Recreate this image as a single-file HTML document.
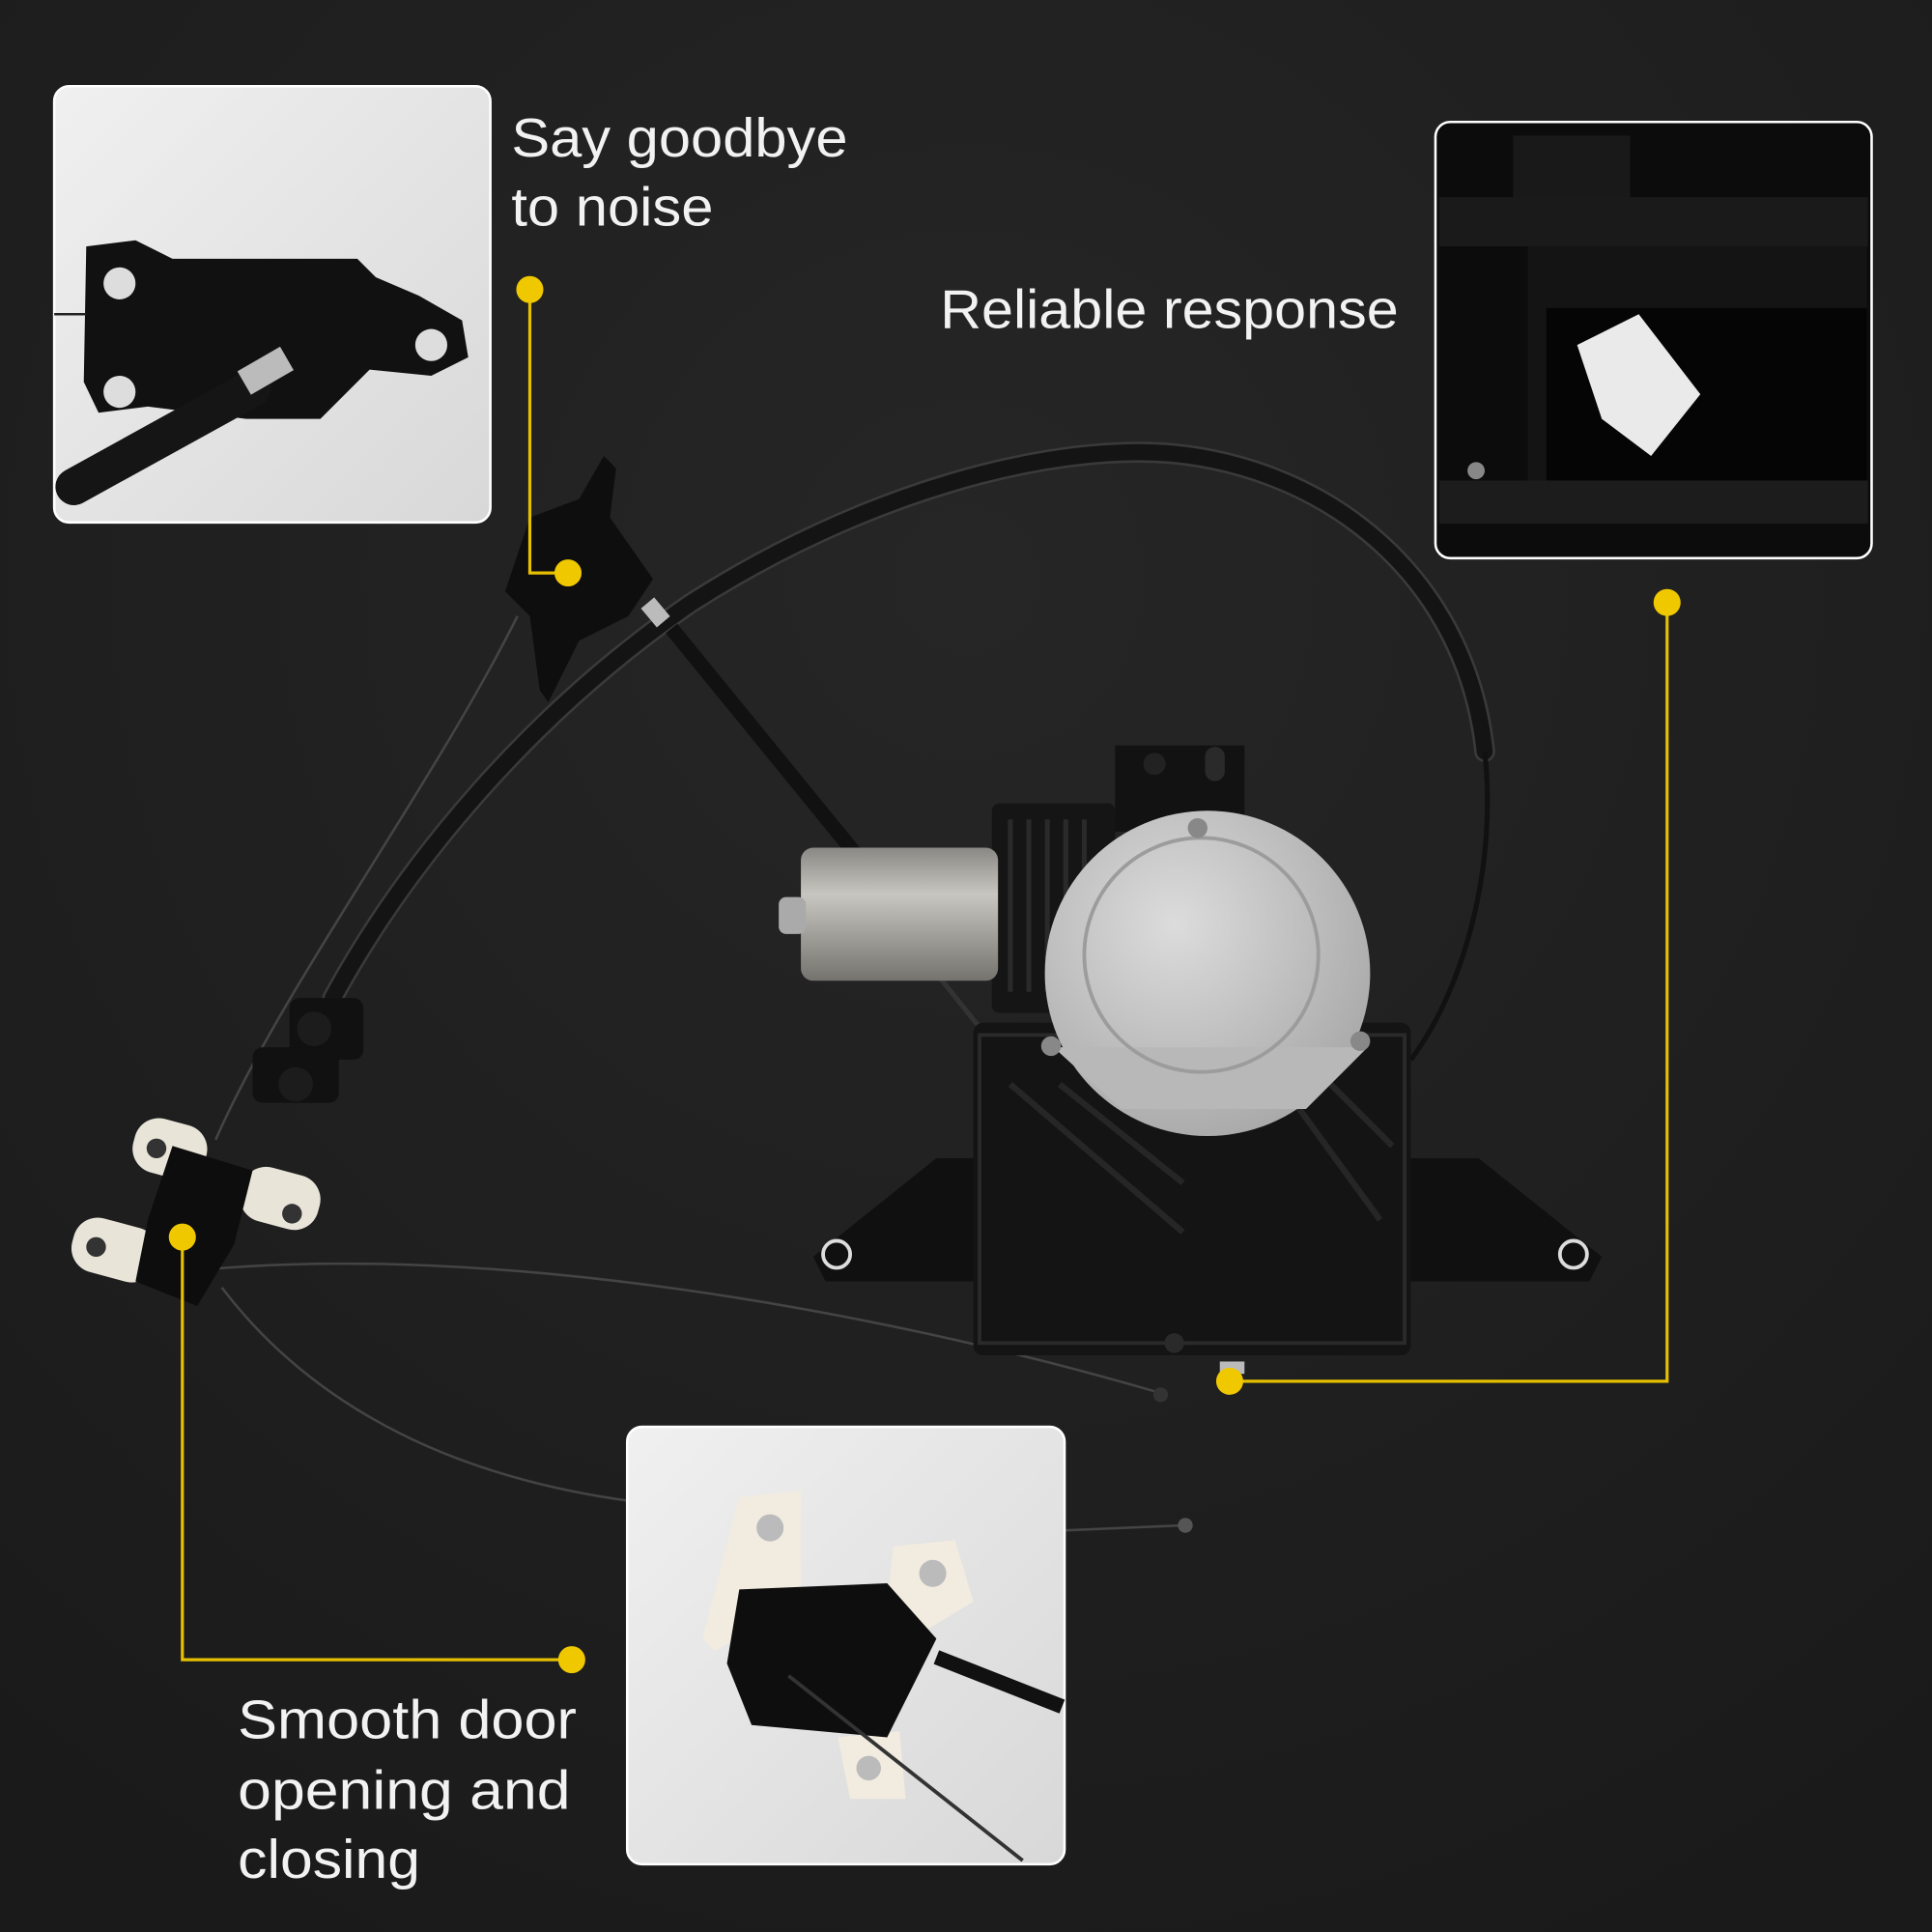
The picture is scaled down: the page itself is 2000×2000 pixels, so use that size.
<!DOCTYPE html>
<html><head><meta charset="utf-8"><style>
html,body{margin:0;padding:0;background:#1e1e1e;}
svg{display:block}
text{font-family:"Liberation Sans",sans-serif;fill:#f2f2f2;font-size:44px;}
</style></head><body>
<svg width="2000" height="2000" viewBox="0 0 1568 1568" xmlns="http://www.w3.org/2000/svg">
<defs>
<radialGradient id="bg" cx="0.5" cy="0.3" r="0.8"><stop offset="0" stop-color="#262626"/><stop offset="1" stop-color="#1a1a1a"/></radialGradient>
<linearGradient id="lite" x1="0" y1="0" x2="1" y2="1"><stop offset="0" stop-color="#f0f0f0"/><stop offset="1" stop-color="#d8d8d8"/></linearGradient>
<linearGradient id="cyl" x1="0" y1="0" x2="0" y2="1"><stop offset="0" stop-color="#8a8884"/><stop offset="0.35" stop-color="#c8c6c0"/><stop offset="1" stop-color="#75736e"/></linearGradient>
<radialGradient id="disc" cx="0.4" cy="0.35" r="0.7"><stop offset="0" stop-color="#dcdcdc"/><stop offset="1" stop-color="#a8a8a8"/></radialGradient>
</defs>
<rect width="1568" height="1568" fill="url(#bg)"/>

<!-- cables -->
<path d="M270 810 C 330 700, 430 580, 560 490 C 700 400, 850 360, 950 368 C 1080 380, 1190 470, 1205 610" fill="none" stroke="#3a3a3a" stroke-width="17" stroke-linecap="round"/>
<path d="M270 810 C 330 700, 430 580, 560 490 C 700 400, 850 360, 950 368 C 1080 380, 1190 470, 1205 610" fill="none" stroke="#141414" stroke-width="13" stroke-linecap="round"/>
<path d="M1205 610 C 1215 700, 1190 800, 1145 860" fill="none" stroke="#111" stroke-width="4"/>
<path d="M545 510 L 700 700" fill="none" stroke="#111" stroke-width="12"/>
<rect x="522" y="490" width="20" height="14" fill="#bbb" transform="rotate(50 532 497)"/>
<path d="M420 500 C 350 640, 230 800, 175 925" fill="none" stroke="#444" stroke-width="2"/>
<path d="M170 1030 C 400 1010, 700 1060, 940 1130" fill="none" stroke="#444" stroke-width="2"/>
<path d="M180 1045 C 260 1150, 380 1200, 510 1218" fill="none" stroke="#444" stroke-width="2"/>
<path d="M865 1242 L 960 1238" fill="none" stroke="#444" stroke-width="2"/>
<circle cx="962" cy="1238" r="6" fill="#555"/>
<circle cx="942" cy="1132" r="6" fill="#333"/>
<path d="M760 790 L 800 840" stroke="#333" stroke-width="4"/>

<!-- top latch -->
<path d="M430 420 L 470 405 L 490 370 L 500 380 L 495 420 L 530 470 L 510 500 L 470 520 L 445 570 L 438 560 L 430 500 L 410 480 Z" fill="#0e0e0e"/>
<!-- clips -->
<rect x="235" y="810" width="60" height="50" rx="8" fill="#111"/>
<rect x="205" y="850" width="70" height="45" rx="8" fill="#111"/>
<circle cx="255" cy="835" r="14" fill="#1c1c1c"/><circle cx="240" cy="880" r="14" fill="#1c1c1c"/>

<!-- bottom-left latch -->
<g>
<rect x="108" y="910" width="60" height="45" rx="20" fill="#e8e4d8" transform="rotate(15 138 932)"/>
<rect x="195" y="950" width="65" height="45" rx="20" fill="#e8e4d8" transform="rotate(15 227 972)"/>
<rect x="58" y="992" width="70" height="45" rx="20" fill="#e8e4d8" transform="rotate(15 93 1015)"/>
<circle cx="127" cy="932" r="8" fill="#333"/><circle cx="237" cy="985" r="8" fill="#333"/><circle cx="78" cy="1012" r="8" fill="#333"/>
<path d="M140 930 L 205 950 L 190 1010 L 160 1060 L 110 1040 L 120 990 Z" fill="#0d0d0d"/>
</g>

<!-- motor unit -->
<path d="M660 1020 L 760 940 L 1200 940 L 1300 1020 L 1290 1040 L 670 1040 Z" fill="#101010"/>
<circle cx="679" cy="1018" r="11" fill="none" stroke="#ddd" stroke-width="3"/>
<circle cx="1277" cy="1018" r="11" fill="none" stroke="#ddd" stroke-width="3"/>
<rect x="790" y="830" width="355" height="270" rx="8" fill="#141414"/>
<rect x="795" y="840" width="345" height="250" fill="none" stroke="#2a2a2a" stroke-width="3"/>
<path d="M820 880 L 960 1000 M 860 880 L 960 960 M 1040 880 L 1120 990 M 1080 880 L 1130 930" stroke="#262626" stroke-width="5"/>
<rect x="905" y="605" width="105" height="70" fill="#121212"/>
<circle cx="937" cy="620" r="9" fill="#222"/><rect x="978" y="606" width="16" height="28" rx="8" fill="#2a2a2a"/>
<rect x="805" y="652" width="100" height="170" rx="6" fill="#151515"/>
<path d="M820 665 v140 M835 665 v140 M850 665 v140 M865 665 v140 M880 665 v140" stroke="#2a2a2a" stroke-width="4"/>
<rect x="650" y="688" width="160" height="108" rx="10" fill="url(#cyl)"/>
<rect x="632" y="728" width="22" height="30" rx="6" fill="#aaa"/>
<circle cx="980" cy="790" r="132" fill="url(#disc)"/>
<path d="M855 850 L 1110 850 L 1060 900 L 910 900 Z" fill="#b8b8b8"/>
<circle cx="975" cy="775" r="95" fill="none" stroke="#9c9c9c" stroke-width="3"/>
<circle cx="972" cy="672" r="8" fill="#888"/><circle cx="853" cy="849" r="8" fill="#888"/><circle cx="1104" cy="845" r="8" fill="#888"/>
<circle cx="953" cy="1090" r="8" fill="#2a2a2a"/>
<rect x="990" y="1105" width="20" height="10" fill="#bbb"/>

<!-- inset top-left -->
<rect x="44" y="70" width="354" height="354" rx="12" fill="url(#lite)" stroke="#fff" stroke-width="2"/>
<path d="M70 200 L 110 195 L 140 210 L 290 210 L 305 225 L 340 240 L 375 260 L 380 290 L 350 305 L 300 300 L 260 340 L 200 340 L 120 330 L 80 335 L 68 310 Z" fill="#111"/>
<circle cx="97" cy="230" r="13" fill="#ddd"/><circle cx="97" cy="318" r="13" fill="#ddd"/><circle cx="350" cy="280" r="13" fill="#ddd"/>
<path d="M60 395 L 205 315" stroke="#151515" stroke-width="30" stroke-linecap="round"/>
<rect x="195" y="290" width="40" height="22" fill="#bbb" transform="rotate(-30 215 300)"/>
<path d="M44 255 L 70 255" stroke="#222" stroke-width="2"/>

<!-- inset top-right -->
<rect x="1165" y="99" width="354" height="354" rx="12" fill="#0c0c0c" stroke="#fff" stroke-width="2"/>
<rect x="1228" y="110" width="95" height="60" fill="#191919"/>
<rect x="1168" y="160" width="348" height="40" fill="#1a1a1a"/>
<rect x="1240" y="200" width="275" height="220" fill="#141414"/>
<rect x="1255" y="250" width="260" height="140" fill="#050505"/>
<rect x="1168" y="390" width="348" height="35" fill="#1c1c1c"/>
<path d="M1280 280 L 1330 255 L 1380 320 L 1340 370 L 1300 340 Z" fill="#eaeaea"/>
<circle cx="1198" cy="382" r="7" fill="#888"/>

<!-- inset bottom -->
<rect x="509" y="1158" width="355" height="355" rx="12" fill="url(#lite)" stroke="#fff" stroke-width="2"/>
<path d="M600 1215 L 650 1210 L 650 1300 L 580 1340 L 570 1330 Z" fill="#f2ece0"/>
<path d="M725 1255 L 775 1250 L 790 1300 L 740 1330 L 720 1300 Z" fill="#f2ece0"/>
<path d="M680 1410 L 730 1405 L 735 1460 L 690 1460 Z" fill="#f2ece0"/>
<circle cx="625" cy="1240" r="11" fill="#bbb"/><circle cx="757" cy="1277" r="11" fill="#bbb"/><circle cx="705" cy="1435" r="10" fill="#bbb"/>
<path d="M600 1290 L 720 1285 L 760 1330 L 720 1410 L 610 1400 L 590 1350 Z" fill="#0e0e0e"/>
<path d="M760 1345 L 862 1385" stroke="#111" stroke-width="12"/>
<path d="M640 1360 L 830 1510" stroke="#333" stroke-width="3"/>

<!-- yellow callouts -->
<g stroke="#e6c000" stroke-width="2.5" fill="none">
<path d="M430 235 V 465 H 461"/>
<path d="M1353 489 V 1121 H 998"/>
<path d="M148 1004 V 1347 H 464"/>
</g>
<g fill="#f0c800">
<circle cx="430" cy="235" r="11"/><circle cx="461" cy="465" r="11"/>
<circle cx="1353" cy="489" r="11"/><circle cx="998" cy="1121" r="11"/>
<circle cx="148" cy="1004" r="11"/><circle cx="464" cy="1347" r="11"/>
</g>

<text x="415" y="127" textLength="273" lengthAdjust="spacingAndGlyphs">Say goodbye</text>
<text x="415" y="183" textLength="164" lengthAdjust="spacingAndGlyphs">to noise</text>
<text x="763" y="266" textLength="372" lengthAdjust="spacingAndGlyphs">Reliable response</text>
<text x="193" y="1411" textLength="275" lengthAdjust="spacingAndGlyphs">Smooth door</text>
<text x="193" y="1468" textLength="270" lengthAdjust="spacingAndGlyphs">opening and</text>
<text x="193" y="1524" textLength="148" lengthAdjust="spacingAndGlyphs">closing</text>
</svg>
</body></html>
